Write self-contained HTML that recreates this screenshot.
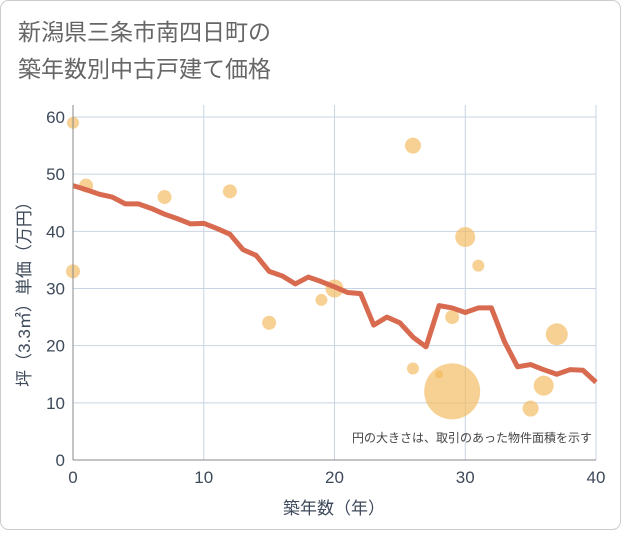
<!DOCTYPE html>
<html><head><meta charset="utf-8"><style>
body{margin:0;background:#fff;}
svg text{font-family:"Liberation Sans","Noto Sans CJK JP",sans-serif;}
</style></head><body>
<svg width="621" height="530" xmlns="http://www.w3.org/2000/svg">
<rect x="0.5" y="0.5" width="620" height="529" rx="8" fill="#fff" stroke="#ccc"/>
<text x="18" y="40" font-size="23" fill="#666">新潟県三条市南四日町の</text>
<text x="18" y="77" font-size="23" fill="#666">築年数別中古戸建て価格</text>
<g id="grid"></g>
<g id="bubbles"></g>
<g id="line"></g>
<g id="axes"></g>
<text x="592" y="442" font-size="12" fill="#444" text-anchor="end">円の大きさは、取引のあった物件面積を示す</text>
<text x="334" y="514" font-size="17" fill="#3e4a5a" text-anchor="middle">築年数（年）</text>
<text transform="translate(30,290) rotate(-90)" font-size="17" fill="#3e4a5a" text-anchor="middle">坪（3.3㎡）単価（万円）</text>
</svg>
<script>
const xTicks=[0,10,20,30,40];
const yTicks=[0,10,20,30,40,50,60];
const lineYears=[0,1,2,3,4,5,6,7,8,9,10,11,12,13,14,15,16,17,18,19,20,21,22,23,24,25,26,27,28,29,30,31,32,33,34,35,36,37,38,39,40];
const lineValues=[48,47.3,46.5,46,44.8,44.8,44,43,42.2,41.3,41.4,40.5,39.5,36.8,35.8,33,32.2,30.8,32,31.2,30.3,29.3,29.1,23.6,25,24,21.5,19.8,27,26.6,25.8,26.6,26.6,20.7,16.3,16.7,15.8,15,15.8,15.7,13.6];
const bubbleX=[0,1,0,7,12,15,19,20,26,26,28,29,29,30,31,35,36,37];
const bubbleY=[59,48,33,46,47,24,28,30,55,16,15,12,25,39,34,9,13,22];
const bubbleR=[6,7,7,7,7,7,6,9,8,6,4,28,7,10,6,8,10,11];
const X0=73,X1=596,Y0=460,Y60=117,TOP=105;
const sx=v=>X0+(X1-X0)*v/40, sy=v=>Y0-(Y0-Y60)*v/60;
const NS="http://www.w3.org/2000/svg";
function mk(p,t,a){const e=document.createElementNS(NS,t);for(const k in a)e.setAttribute(k,a[k]);p.appendChild(e);return e;}
const grid=document.getElementById('grid');
xTicks.forEach(t=>{const l=mk(grid,'line',{x1:sx(t),x2:sx(t),y1:TOP,y2:Y0,stroke:'#c8d4e3'});
});
yTicks.forEach(t=>{const l=mk(grid,'line',{x1:X0,x2:X1,y1:sy(t),y2:sy(t),stroke:'#c8d4e3'});
});
const bg=document.getElementById('bubbles');
bubbleX.forEach((x,i)=>{const c=mk(bg,'circle',{cx:sx(x),cy:sy(bubbleY[i]),r:bubbleR[i],fill:'#f2b85a','fill-opacity':0.65});
});
const lg=document.getElementById('line');
const p=mk(lg,'polyline',{points:lineYears.map((y,i)=>sx(y)+','+sy(lineValues[i])).join(' '),fill:'none',stroke:'#d86a50','stroke-width':5,'stroke-linejoin':'round'});

const ax=document.getElementById('axes');
const a1=mk(ax,'line',{x1:X0,x2:X0,y1:TOP,y2:Y0,stroke:'#888'});
const a2=mk(ax,'line',{x1:X0,x2:X1,y1:Y0,y2:Y0,stroke:'#888'});
xTicks.forEach(t=>{const e=mk(ax,'text',{x:sx(t),y:Y0+23,'font-size':17,fill:'#3e4a5a','text-anchor':'middle'});e.textContent=t;
});
yTicks.forEach(t=>{const e=mk(ax,'text',{x:X0-8,y:sy(t)+6,'font-size':17,fill:'#3e4a5a','text-anchor':'end'});e.textContent=t;
});
</script>
</body></html>
